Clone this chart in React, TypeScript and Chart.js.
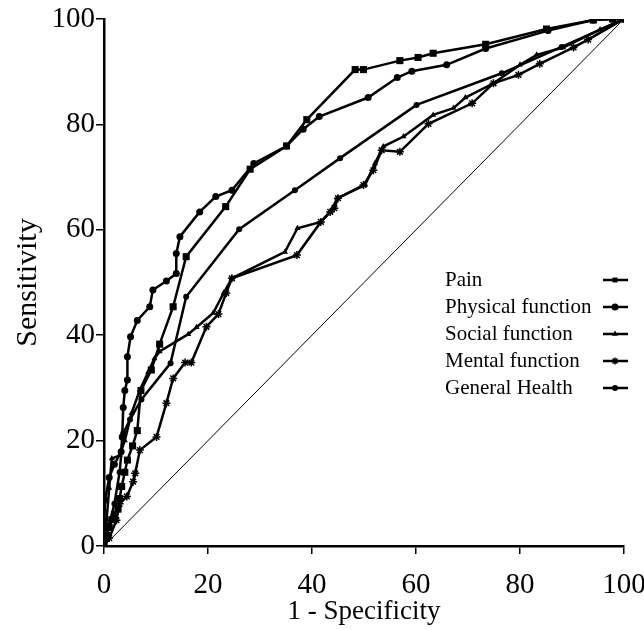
import React, { useEffect, useRef } from "react";
import { Chart, registerables } from "chart.js";

Chart.register(...registerables);

// 1 - Specificity (x) and Sensitivity (y) for each curve
const painX = [0, 0.5, 1, 1.5, 2, 2.7, 3, 3.4, 4, 4.5, 5.5, 6.4, 7.1, 9.1, 10.7, 13.3, 15.8, 23.4, 28.1, 35.1, 39, 48.3, 49.9, 56.9, 60.4, 63.3, 73.4, 85.1, 94.1, 97.8, 100];
const painY = [0, 2, 3.5, 5, 6, 7, 9, 11.3, 14, 16.3, 19, 21.9, 29.5, 33.4, 38.3, 45.4, 54.9, 64.4, 71.5, 75.9, 80.9, 90.4, 90.4, 92.1, 92.7, 93.5, 95.2, 98.1, 99.8, 100, 100];

const physX = [0, 0, 0.2, 1, 2, 3.3, 3.5, 3.7, 4, 4.5, 4.5, 5.1, 6.4, 8.8, 9.4, 12, 13.9, 13.9, 14.6, 18.4, 21.5, 24.6, 28.8, 35.1, 38.3, 41.4, 50.8, 56.4, 59.2, 65.9, 73.4, 85.4, 94.1, 97.8, 100];
const physY = [0, 3.5, 8.7, 13, 15.5, 17.9, 20.7, 26.3, 29.5, 31.5, 35.9, 39.7, 42.8, 45.4, 48.6, 50.3, 51.7, 55.5, 58.7, 63.4, 66.3, 67.5, 72.6, 75.9, 79.1, 81.5, 85.1, 88.9, 90.1, 91.3, 94.4, 97.8, 99.8, 100, 100];

const socialX = [0, 0.5, 1, 1.5, 3, 4, 5.3, 6.9, 8.5, 9.7, 10.7, 16.2, 17.8, 21, 23, 24.6, 34.8, 37.2, 41.7, 43.5, 44.9, 50.2, 52.1, 53.7, 57.6, 63.3, 67.2, 69.5, 74.9, 80, 83.2, 88.3, 95.4, 100];
const socialY = [0, 5, 11, 16.6, 17.2, 20, 25.2, 29.6, 33, 35.6, 36.9, 40.2, 41.5, 44.2, 48, 50.8, 55.8, 60.3, 61.5, 63.4, 66, 68.5, 72.6, 75.8, 77.7, 81.8, 83.1, 85.1, 87.8, 91.3, 93.2, 94.6, 98, 100];

const mentalX = [0, 1, 2.4, 3, 4.4, 5.6, 6, 6.9, 10.1, 12, 13.3, 15.6, 16.8, 19.7, 22, 23.5, 24.6, 37.1, 41.7, 43.5, 44.3, 45, 49.9, 51.8, 53.4, 56.9, 62.4, 70.8, 74.9, 79.7, 83.8, 90.3, 93.1, 100];
const mentalY = [0, 1.5, 4.9, 8, 9.4, 12.2, 13.8, 18.2, 20.7, 27.1, 31.8, 34.8, 34.8, 41.6, 44, 48, 50.8, 55.2, 61.5, 63.4, 64.1, 66, 68.5, 71.3, 75.1, 74.8, 80.1, 84, 87.8, 89.4, 91.5, 94.6, 96.1, 100];

const generalX = [0, 0.5, 1, 2, 3, 3.7, 5, 7.2, 12.8, 15.8, 26, 36.7, 45.4, 60.1, 76.5, 88, 100];
const generalY = [0, 2, 4, 8, 14, 21.4, 24, 27.8, 34.7, 47.3, 60.1, 67.5, 73.6, 83.7, 89.7, 94.7, 100];

const diagX = [0, 100];
const diagY = [0, 100];

const seriesNames = ["Pain", "Physical function", "Social function", "Mental function", "General Health"];
const seriesStyles = ["rect", "circle", "triangle", "star", "circle"];
const axisTicks = [0, 20, 40, 60, 80, 100];

const FONT = '"Liberation Serif", "Times New Roman", serif';

const zip = (xs: number[], ys: number[]) => xs.map((x, i) => ({ x, y: ys[i] }));

function drawMarker(ctx: CanvasRenderingContext2D, style: string, x: number, y: number, r: number) {
  ctx.fillStyle = "#000";
  ctx.strokeStyle = "#000";
  ctx.lineWidth = 1.5;
  ctx.beginPath();
  if (style === "rect") {
    const s = r * Math.SQRT1_2;
    ctx.rect(x - s, y - s, 2 * s, 2 * s);
    ctx.fill();
  } else if (style === "circle") {
    ctx.arc(x, y, r, 0, Math.PI * 2);
    ctx.fill();
  } else if (style === "triangle") {
    ctx.moveTo(x, y - r);
    ctx.lineTo(x + r * 0.866, y + r * 0.5);
    ctx.lineTo(x - r * 0.866, y + r * 0.5);
    ctx.closePath();
    ctx.fill();
  } else if (style === "star") {
    ctx.moveTo(x - r, y);
    ctx.lineTo(x + r, y);
    ctx.moveTo(x, y - r);
    ctx.lineTo(x, y + r);
    const d = r * 0.707;
    ctx.moveTo(x - d, y - d);
    ctx.lineTo(x + d, y + d);
    ctx.moveTo(x - d, y + d);
    ctx.lineTo(x + d, y - d);
    ctx.stroke();
  }
}

const legendPlugin = {
  id: "customLegend",
  afterDraw(chart: any) {
    const ctx = chart.ctx;
    const items = chart.data.datasets.filter((d: any) => d.inLegend);
    const x0 = 445;
    const y0 = 280;
    const step = 27;
    ctx.save();
    items.forEach((d: any, i: number) => {
      const y = y0 + i * step;
      ctx.fillStyle = "#000";
      ctx.font = `21px ${FONT}`;
      ctx.textBaseline = "middle";
      ctx.textAlign = "left";
      ctx.fillText(d.label, x0, y);
      ctx.strokeStyle = "#000";
      ctx.lineWidth = 2.5;
      ctx.beginPath();
      ctx.moveTo(603, y);
      ctx.lineTo(628, y);
      ctx.stroke();
      drawMarker(ctx, d.pointStyle, 615, y, Math.min(d.pointRadius, 3.5));
    });
    ctx.restore();
  },
};

export default function App() {
  const ref = useRef<HTMLCanvasElement | null>(null);

  useEffect(() => {
    if (!ref.current) return;
    const xsList = [painX, physX, socialX, mentalX, generalX];
    const ysList = [painY, physY, socialY, mentalY, generalY];
    const radii = [5, 3.5, 3.5, 4, 3];
    const datasets: any[] = seriesNames.map((name, i) => ({
      label: name,
      inLegend: true,
      data: zip(xsList[i], ysList[i]),
      showLine: true,
      borderColor: "#000",
      backgroundColor: "#000",
      borderWidth: 2.5,
      pointStyle: seriesStyles[i],
      pointRadius: radii[i],
      pointBorderWidth: seriesStyles[i] === "star" ? 1.5 : 0,
      pointBackgroundColor: "#000",
      pointBorderColor: "#000",
      tension: 0,
    }));
    datasets.push({
      label: "diagonal",
      inLegend: false,
      data: zip(diagX, diagY),
      showLine: true,
      borderColor: "#000",
      borderWidth: 1,
      pointRadius: 0,
    });

    const chart = new Chart(ref.current, {
      type: "scatter",
      data: { datasets },
      plugins: [legendPlugin],
      options: {
        animation: false,
        responsive: false,
        layout: { padding: { top: 19, right: 20, left: 0, bottom: 0 } },
        plugins: { legend: { display: false }, tooltip: { enabled: false } },
        scales: {
          x: {
            type: "linear",
            min: 0,
            max: 100,
            afterFit: (s: any) => {
              s.height = 84;
              s.paddingLeft = 0;
              s.paddingRight = 0;
            },
            afterBuildTicks: (s: any) => {
              s.ticks = axisTicks.map((v) => ({ value: v }));
            },
            ticks: { color: "#000", font: { family: FONT, size: 29 }, padding: 14, maxRotation: 0 },
            grid: { drawOnChartArea: false, drawTicks: true, tickLength: 8, color: "#000", lineWidth: 1.5 },
            border: { display: true, color: "#000", width: 2.5 },
            title: { display: true, text: "1 - Specificity", color: "#000", font: { family: FONT, size: 27 }, padding: { top: 0, bottom: 2 } },
          },
          y: {
            type: "linear",
            min: 0,
            max: 100,
            afterFit: (s: any) => {
              s.width = 104;
              s.paddingTop = 0;
              s.paddingBottom = 0;
            },
            afterBuildTicks: (s: any) => {
              s.ticks = axisTicks.map((v) => ({ value: v }));
            },
            ticks: { color: "#000", font: { family: FONT, size: 29 }, padding: 1 },
            grid: { drawOnChartArea: false, drawTicks: true, tickLength: 8, color: "#000", lineWidth: 1.5 },
            border: { display: true, color: "#000", width: 2.5 },
            title: { display: true, text: "Sensitivity", color: "#000", font: { family: FONT, size: 30 }, padding: { top: 10, bottom: 0 } },
          },
        },
      } as any,
    });
    return () => chart.destroy();
  }, []);

  return (
    <div style={{ position: "fixed", left: 0, top: 0, width: 644, height: 630, background: "#fff" }}>
      <canvas ref={ref} width={644} height={630} style={{ width: 644, height: 630, display: "block" }} />
    </div>
  );
}
